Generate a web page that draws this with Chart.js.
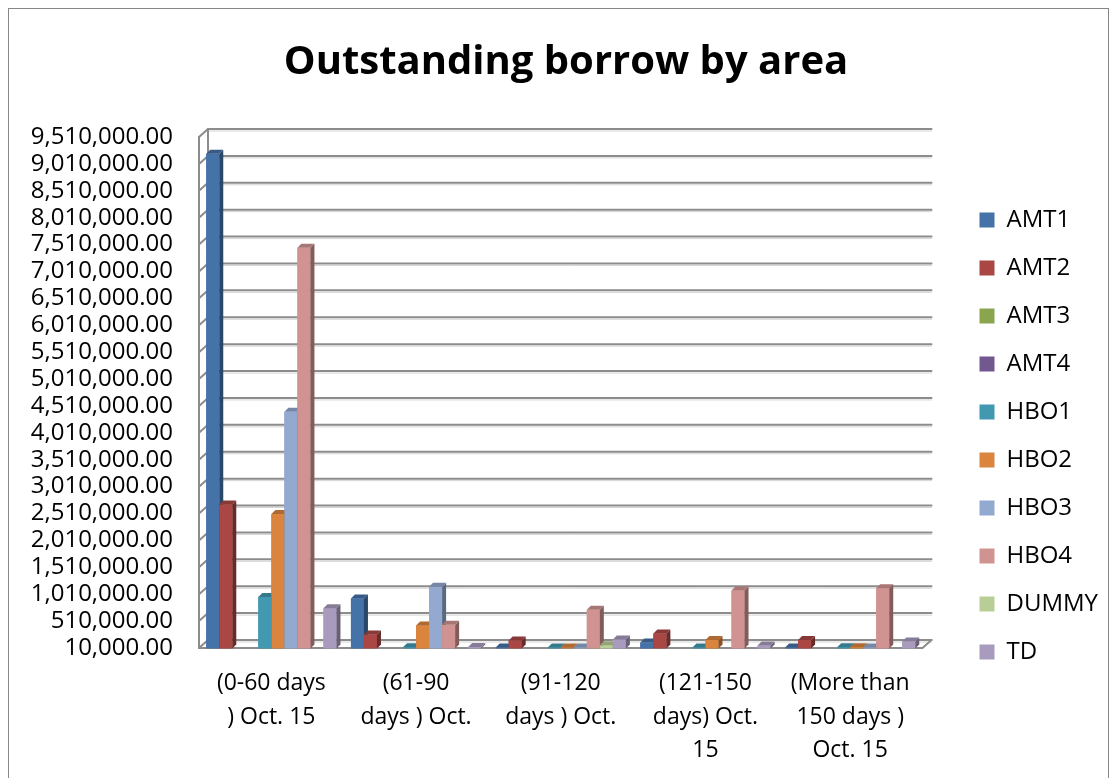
<!DOCTYPE html>
<html>
<head>
<meta charset="utf-8">
<script src="https://cdn.jsdelivr.net/npm/chart.js@4"></script>
<style>
  body { margin: 0; background: #fff; }
  #frame { position: absolute; left: 8px; top: 8px; width: 1099px; height: 769px; border: 1px solid #878787; border-bottom: none; }
  canvas { display: block; }
</style>
</head>
<body>
<div id="frame"><canvas id="bargraph"></canvas></div>
<script>
const categories = [
  ["(0-60 days", ") Oct. 15"],
  ["(61-90", "days ) Oct."],
  ["(91-120", "days ) Oct."],
  ["(121-150", "days) Oct.", "15"],
  ["(More than", "150 days )", "Oct. 15"]
];
const seriesNames = ["AMT1", "AMT2", "AMT3", "AMT4", "HBO1", "HBO2", "HBO3", "HBO4", "DUMMY", "TD"];
const seriesColors = ["#4572A7", "#AA4643", "#89A54E", "#71588F", "#4198AF", "#DB843D", "#93A9CF", "#D19392", "#B9CD96", "#A99BBD"];

const amt1 = [9200000, 930000, 20000, 110000, 20000];
const amt2 = [2680000, 260000, 150000, 280000, 160000];
const amt3 = [null, null, null, null, null];
const amt4 = [null, null, null, null, null];
const hbo1 = [960000, 25000, 20000, 20000, 25000];
const hbo2 = [2500000, 430000, 20000, 160000, 25000];
const hbo3 = [4400000, 1150000, 20000, null, 20000];
const hbo4 = [7450000, 440000, 720000, 1080000, 1120000];
const dummy = [null, null, 60000, null, null];
const td = [750000, 30000, 170000, 55000, 130000];

const yTicks = [10000, 510000, 1010000, 1510000, 2010000, 2510000, 3010000, 3510000, 4010000, 4510000,
  5010000, 5510000, 6010000, 6510000, 7010000, 7510000, 8010000, 8510000, 9010000, 9510000];

const seriesValues = [amt1, amt2, amt3, amt4, hbo1, hbo2, hbo3, hbo4, dummy, td];

Chart.defaults.font.family = "'Open Sans', sans-serif";
Chart.defaults.color = "#000";

// wall depth and bar depth for the fake 3D look
const WX = 9, WY = -8;
const BX = 4, BY = -4;

function shade(hex, f) {
  const n = parseInt(hex.slice(1), 16);
  const r = Math.round(((n >> 16) & 255) * f);
  const g = Math.round(((n >> 8) & 255) * f);
  const b = Math.round((n & 255) * f);
  return "rgb(" + r + "," + g + "," + b + ")";
}

const walls = {
  id: "walls",
  beforeDatasetsDraw(chart) {
    const ctx = chart.ctx;
    const a = chart.chartArea;
    const ys = chart.scales.y;
    ctx.save();
    ctx.lineCap = "round";
    yTicks.forEach((v) => {
      const py = ys.getPixelForValue(v);
      ctx.strokeStyle = "#d4d4d4";
      ctx.lineWidth = 1;
      ctx.beginPath();
      ctx.moveTo(a.left + WX, py + WY + 2);
      ctx.lineTo(a.right + WX, py + WY + 2);
      ctx.stroke();
      ctx.strokeStyle = "#8c8c8c";
      ctx.lineWidth = 2;
      ctx.beginPath();
      ctx.moveTo(a.left, py);
      ctx.lineTo(a.left + WX, py + WY);
      ctx.lineTo(a.right + WX, py + WY);
      ctx.stroke();
    });
    ctx.beginPath();
    ctx.moveTo(a.left, a.top);
    ctx.lineTo(a.left, a.bottom);
    ctx.lineTo(a.right, a.bottom);
    ctx.lineTo(a.right + WX, a.bottom + WY);
    ctx.moveTo(a.left + WX, a.top + WY);
    ctx.lineTo(a.left + WX, a.bottom + WY);
    ctx.stroke();
    ctx.restore();
  }
};

const bar3d = {
  id: "bar3d",
  afterDatasetsDraw(chart) {
    const ctx = chart.ctx;
    ctx.save();
    chart.data.datasets.forEach((ds, i) => {
      const meta = chart.getDatasetMeta(i);
      const c = seriesColors[i];
      meta.data.forEach((bar, j) => {
        if (ds.data[j] == null) return;
        const p = bar.getProps(["x", "y", "base", "width"], true);
        const l = p.x - p.width / 2, r = p.x + p.width / 2;
        ctx.fillStyle = c;
        ctx.fillRect(l, p.y, p.width, p.base - p.y);
        ctx.fillStyle = shade(c, 0.62);
        ctx.beginPath();
        ctx.moveTo(r, p.y);
        ctx.lineTo(r + BX, p.y + BY);
        ctx.lineTo(r + BX, p.base + BY);
        ctx.lineTo(r, p.base);
        ctx.closePath();
        ctx.fill();
        ctx.fillStyle = shade(c, 0.8);
        ctx.beginPath();
        ctx.moveTo(l, p.y);
        ctx.lineTo(r, p.y);
        ctx.lineTo(r + BX, p.y + BY);
        ctx.lineTo(l + BX, p.y + BY);
        ctx.closePath();
        ctx.fill();
      });
    });
    ctx.restore();
  }
};

const bargraph = document.getElementById("bargraph").getContext("2d");

new Chart(bargraph, {
  type: "bar",
  data: {
    labels: categories,
    datasets: seriesNames.map((name, i) => ({
      label: name,
      data: seriesValues[i],
      backgroundColor: seriesColors[i],
      categoryPercentage: 0.9,
      barPercentage: 1.0
    }))
  },
  options: {
    responsive: true,
    maintainAspectRatio: false,
    animation: false,
    layout: { padding: { left: 15, right: 0, top: 0, bottom: 0 } },
    plugins: {
      title: {
        display: true,
        text: "Outstanding borrow by area",
        font: { size: 40, weight: "bold" },
        color: "#000",
        padding: { top: 30, bottom: 50 }
      },
      legend: {
        position: "right",
        align: "start",
        title: { display: true, text: " ", font: { size: 10 }, padding: { top: 0, bottom: 163 } },
        labels: {
          boxWidth: 15,
          boxHeight: 15,
          padding: 24,
          font: { size: 24 },
          color: "#000"
        }
      },
      tooltip: { enabled: false }
    },
    scales: {
      x: {
        grid: { display: false, drawTicks: false },
        border: { display: false },
        ticks: { font: { size: 23, lineHeight: 1.45 }, padding: 19, maxRotation: 0, autoSkip: false },
        afterFit(s) { s.height = 130; }
      },
      y: {
        min: 10000,
        max: 9510000,
        grid: { display: false, drawTicks: false },
        border: { display: false },
        ticks: {
          font: { size: 24 },
          padding: 26,
          autoSkip: false,
          callback: (v) => Number(v).toLocaleString("en-US", { minimumFractionDigits: 2, maximumFractionDigits: 2 })
        },
        afterBuildTicks(s) { s.ticks = yTicks.map((v) => ({ value: v })); },
        afterFit(s) { s.width = 175; }
      },
      spacer: {
        type: "linear",
        position: "right",
        display: true,
        grid: { display: false, drawTicks: false },
        border: { display: false },
        ticks: { display: false },
        afterFit(s) { s.width = 33; }
      }
    }
  },
  plugins: [walls, bar3d]
});
</script>
</body>
</html>
